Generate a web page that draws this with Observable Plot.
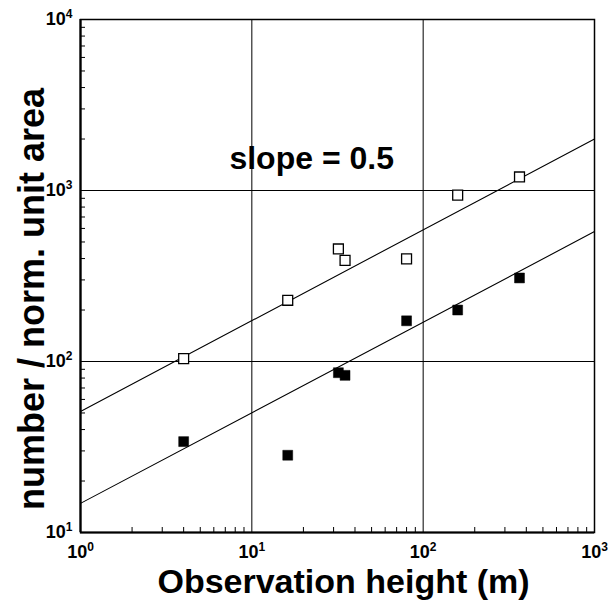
<!DOCTYPE html>
<html><head><meta charset="utf-8">
<script src="https://cdn.jsdelivr.net/npm/d3@7"></script>
<script src="https://cdn.jsdelivr.net/npm/@observablehq/plot@0.6"></script>
<style>body{margin:0;background:#fff;} #chart svg{display:block;}</style>
</head><body><div id="chart"></div>
<script>
// Observation heights (m)
const heights = [4, 16.2, 32, 35, 80, 159, 365];
// open squares
const openCounts = [104, 228, 455, 390, 398, 940, 1200];
// filled squares
const filledCounts = [34, 28.3, 86, 83, 173, 200, 308];
// fitted lines (endpoints)
const fitX = [1, 1000];
const openFit = [51, 2000];
const filledFit = [14.8, 575];
// ticks
const xTicks = [1, 10, 100, 1000];
const yTicks = [10, 100, 1000, 10000];
const xGrid = [10, 100];
const yGrid = [100, 1000];
const annotation = {text: "slope = 0.5", x: 7.4, y: 1524};
const xTitle = "Observation height (m)";
const yTitle = "number / norm. unit area";

const minorX = [1, 10, 100].flatMap(d => d3.range(2, 10).map(k => k * d));
const minorY = [10, 100, 1000].flatMap(d => d3.range(2, 10).map(k => k * d));

const openData = heights.map((h, i) => ({h, v: openCounts[i]}));
const filledData = heights.map((h, i) => ({h, v: filledCounts[i]}));
const openLine = fitX.map((x, i) => ({x, y: openFit[i]}));
const filledLine = fitX.map((x, i) => ({x, y: filledFit[i]}));

const font = "'Liberation Sans', Arial, Helvetica, sans-serif";
const fmt = d => "10|" + Math.round(Math.log10(d));

const W = 610, H = 604, ML = 80, MR = 16, MT = 19, MB = 72;
const tickLen = 5;

const chart = Plot.plot({
  width: W, height: H,
  marginLeft: ML, marginRight: MR, marginTop: MT, marginBottom: MB,
  style: {fontFamily: font, color: "black", background: "white", overflow: "visible"},
  x: {type: "log", domain: [1, 1000]},
  y: {type: "log", domain: [10, 10000]},
  marks: [
    Plot.gridX(xGrid, {stroke: "black", strokeOpacity: 1, strokeWidth: 1}),
    Plot.gridY(yGrid, {stroke: "black", strokeOpacity: 1, strokeWidth: 1}),
    Plot.tickX(minorX, {x: d => d, insetTop: H - MT - MB - tickLen, stroke: "black", strokeWidth: 1}),
    Plot.tickY(minorY, {y: d => d, insetRight: W - ML - MR - tickLen, stroke: "black", strokeWidth: 1}),
    Plot.axisX({ticks: xTicks, tickSize: 0, tickPadding: 13, tickFormat: fmt, label: null, fontSize: 18, fontWeight: "bold", fill: "black"}),
    Plot.axisY({ticks: yTicks, tickSize: 0, tickPadding: 8, tickFormat: fmt, label: null, fontSize: 18, fontWeight: "bold", fill: "black"}),
    Plot.frame({stroke: "black", strokeWidth: 1.5}),
    Plot.ruleX([1], {stroke: "black", strokeWidth: 2.2}),
    Plot.ruleY([10], {stroke: "black", strokeWidth: 2.2}),
    Plot.line(openLine, {x: "x", y: "y", stroke: "black", strokeWidth: 1.1}),
    Plot.line(filledLine, {x: "x", y: "y", stroke: "black", strokeWidth: 1.1}),
    Plot.dot(openData, {x: "h", y: "v", symbol: "square", r: 5.6, fill: "white", stroke: "black", strokeWidth: 1.3}),
    Plot.dot(filledData, {x: "h", y: "v", symbol: "square", r: 5.6, fill: "black", stroke: "black", strokeWidth: 0.5}),
    Plot.text([annotation], {x: "x", y: "y", text: "text", textAnchor: "start", lineAnchor: "middle", fontSize: 32, fontWeight: "bold", fill: "black"}),
    Plot.text([xTitle], {frameAnchor: "bottom", textAnchor: "middle", dx: 6, dy: 50, lineAnchor: "middle", fontSize: 34, fontWeight: "bold", fill: "black"}),
    Plot.text([yTitle], {frameAnchor: "left", textAnchor: "middle", rotate: -90, dx: -48, dy: 23, lineAnchor: "middle", fontSize: 36, fontWeight: "bold", fill: "black"})
  ]
});

// superscript exponents in tick labels
chart.querySelectorAll("text").forEach(t => {
  const s = t.textContent;
  if (/^10\|\d$/.test(s)) {
    const [base, exp] = s.split("|");
    t.textContent = "";
    const a = document.createElementNS("http://www.w3.org/2000/svg", "tspan");
    a.textContent = base;
    const b = document.createElementNS("http://www.w3.org/2000/svg", "tspan");
    b.textContent = exp;
    b.setAttribute("dy", "-7");
    b.setAttribute("font-size", "12");
    t.appendChild(a); t.appendChild(b);
  }
});
document.getElementById("chart").appendChild(chart);
</script>
</body></html>
